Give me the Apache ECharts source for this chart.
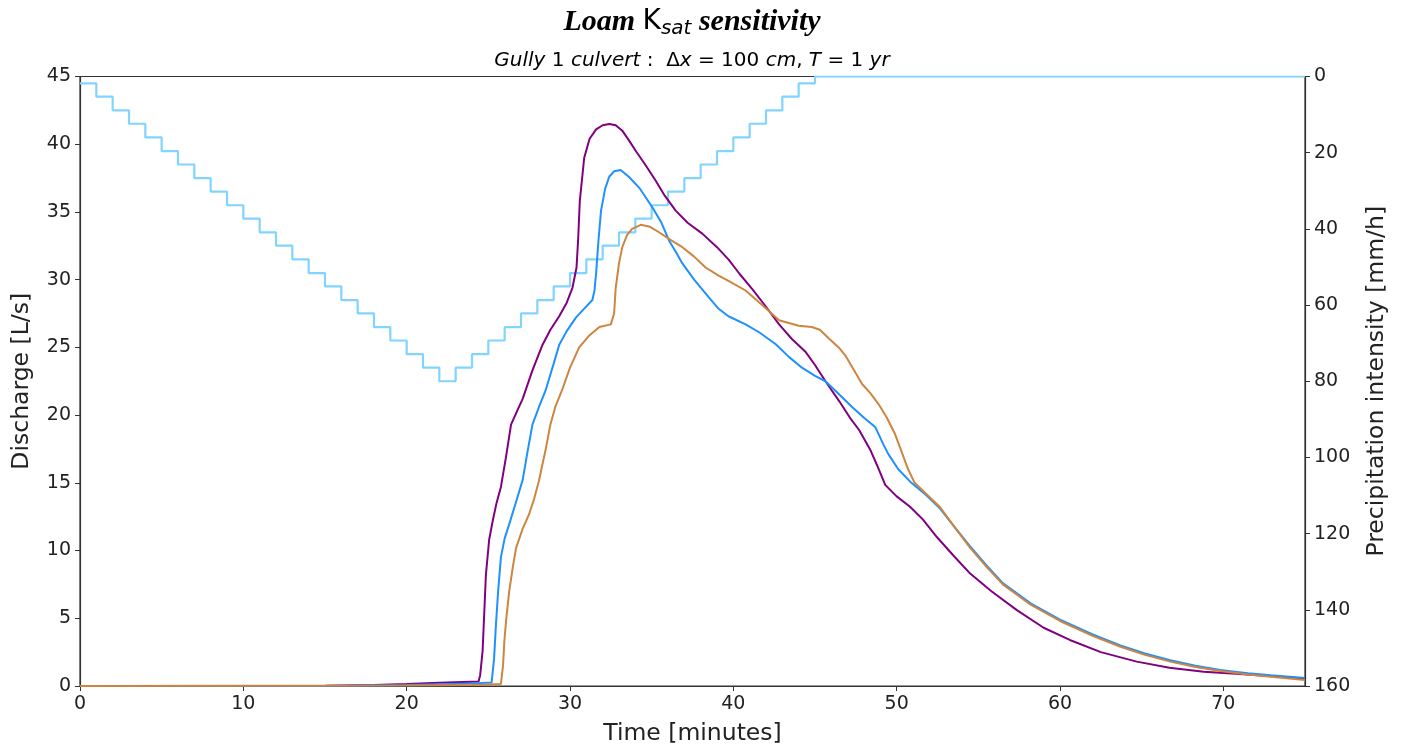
<!DOCTYPE html>
<html>
<head>
<meta charset="utf-8">
<script src="https://cdn.jsdelivr.net/npm/echarts@6/dist/echarts.min.js"></script>
<style>
html,body{margin:0;padding:0;background:#fff;}
#chart{width:1407px;height:751px;}
</style>
</head>
<body>
<div id="chart"></div>
<script>
// Time axis ticks
const xTicks = [0, 10, 20, 30, 40, 50, 60, 70];

// Precipitation hyetograph (mm/h), 1-minute blocks starting at t = 0
const rainTimes = [0,1,2,3,4,5,6,7,8,9,10,11,12,13,14,15,16,17,18,19,20,21,22,23,24,25,26,27,28,29,30,31,32,33,34,35,36,37,38,39,40,41,42,43,44,45,75];
const rainValues = [1.8,5.3,8.9,12.4,16.0,19.6,23.1,26.7,30.2,33.8,37.3,40.9,44.4,48.0,51.6,55.1,58.7,62.2,65.8,69.3,72.9,76.4,80.0,
                    76.4,72.9,69.3,65.8,62.2,58.7,55.1,51.6,48.0,44.4,40.9,37.3,33.8,30.2,26.7,23.1,19.6,16.0,12.4,8.9,5.3,1.8,0,0];

// Discharge series (L/s)
const purpleT = [0,10,15,18,20,22,24.4,24.5,24.65,24.85,25.05,25.27,25.5,25.77,26.08,26.39,26.8,27.1,27.7,28.32,28.8,29.34,29.8,30.15,30.4,30.5,30.6,30.87,31.2,31.6,32.0,32.4,32.8,33.2,33.6,34.03,34.6,35.25,35.8,36.47,37.2,38.1,39.0,39.7,40.4,41.16,42.0,42.8,43.6,44.4,45.0,45.64,46.5,47.2,47.7,48.4,48.8,49.3,50.0,50.8,51.6,52.46,53.5,54.5,55.8,57.36,59.0,60.6,62.5,64.7,66.7,68.8,71,73,75];
const purpleQ = [0,0,0.02,0.08,0.15,0.24,0.33,0.8,2.6,8.2,10.8,12.2,13.5,14.7,16.9,19.3,20.4,21.2,23.3,25.2,26.3,27.3,28.3,29.4,30.9,33.0,35.8,39.0,40.4,41.1,41.4,41.5,41.4,41.0,40.3,39.5,38.5,37.3,36.2,35.1,34.2,33.4,32.4,31.5,30.4,29.3,28.0,26.7,25.6,24.7,23.7,22.5,21.0,19.7,18.9,17.4,16.3,14.85,14.0,13.25,12.3,11.0,9.6,8.3,7.0,5.6,4.3,3.4,2.5,1.8,1.35,1.06,0.88,0.72,0.55];

const blueT = [0,15,20,24,25.2,25.35,25.47,25.6,25.77,26.0,26.28,26.7,27.1,27.4,27.7,28.1,28.5,29.0,29.34,29.8,30.36,30.9,31.37,31.5,31.6,31.75,31.9,32.15,32.4,32.7,33.1,33.6,34.23,35.04,35.6,36.06,36.5,36.88,37.6,38.5,39.1,39.7,40.75,41.6,42.58,43.4,44.2,45.0,45.64,46.5,47.27,48.0,48.7,49.2,49.5,50.1,50.9,51.8,52.66,53.5,54.5,55.5,56.5,58.2,60.0,62.0,63.7,65.2,66.75,68.3,69.8,71.5,72.9,75];
const blueQ = [0,0,0.08,0.18,0.25,2.0,4.6,7.0,9.5,10.9,11.95,13.6,15.2,17.3,19.3,20.6,21.8,23.8,25.2,26.2,27.2,27.9,28.5,29.2,30.5,33.0,35.1,36.7,37.6,38.0,38.1,37.6,36.8,35.35,34.2,32.9,32.0,31.2,30.0,28.7,27.85,27.3,26.7,26.1,25.25,24.3,23.5,22.9,22.5,21.5,20.6,19.8,19.1,17.8,17.1,16.0,15.0,14.1,13.1,11.8,10.3,8.9,7.6,6.1,4.9,3.8,3.0,2.4,1.9,1.5,1.18,0.95,0.8,0.6];

const orangeT = [0,20,24,25.77,25.9,25.98,26.1,26.28,26.5,26.7,27.1,27.5,27.8,28.1,28.3,28.5,28.8,29.1,29.5,30.0,30.56,31.2,31.8,32.5,32.7,32.8,33.0,33.2,33.5,33.8,34.33,34.9,35.45,36.2,36.88,37.6,38.3,39.1,39.73,40.75,41.8,42.8,43.4,44.0,44.8,45.3,45.9,46.45,46.86,47.4,47.88,48.4,48.9,49.4,49.9,50.3,50.7,51.1,51.8,52.66,53.5,54.5,55.5,56.5,58.2,60.0,62.0,63.7,65.2,66.75,68.3,69.8,71.5,72.9,75];
const orangeQ = [0,0.03,0.08,0.15,1.5,3.3,5.0,7.0,8.8,10.2,11.6,12.7,13.8,15.15,16.3,17.4,19.3,20.6,21.8,23.5,25.0,25.9,26.5,26.7,27.5,29.4,31.2,32.4,33.3,33.75,34.05,33.9,33.5,32.9,32.4,31.7,30.9,30.3,29.9,29.2,28.1,27.0,26.8,26.6,26.5,26.3,25.6,25.0,24.4,23.3,22.3,21.6,20.8,19.8,18.6,17.3,16.0,15.0,14.2,13.2,11.8,10.2,8.8,7.5,6.0,4.8,3.7,2.9,2.3,1.8,1.4,1.1,0.85,0.68,0.45];

function pairs(t, v) { return t.map((x, i) => [x, v[i]]); }

const FONT = 'DejaVu Sans';
const chart = echarts.init(document.getElementById('chart'), null, {renderer: 'canvas'});
chart.setOption({
  animation: false,
  backgroundColor: '#ffffff',
  grid: {left: 80, right: 102, top: 76.5, bottom: 65, show: true, borderColor: '#333', borderWidth: 1.2, backgroundColor: 'transparent', containLabel: false},
  graphic: [
    {type: 'text', x: 692, y: 22, z: 10,
     style: {text: '{b|Loam }{k|K}{s|sat}{b| sensitivity}', align: 'center', verticalAlign: 'middle',
       rich: {
         b: {fontFamily: 'Liberation Serif', fontWeight: 'bold', fontStyle: 'italic', fontSize: 30, color: '#000'},
         k: {fontFamily: FONT, fontSize: 28, color: '#000'},
         s: {fontFamily: FONT, fontStyle: 'italic', fontSize: 20, color: '#000', padding: [13, 0, 0, 0]}
       }}},
    {type: 'text', x: 692, y: 61, z: 10,
     style: {text: '{i|Gully }{n|1 }{i|culvert}{n| :  Δ}{i|x}{n| = 100 }{i|cm}{n|, }{i|T}{n| = 1 }{i|yr}', align: 'center', verticalAlign: 'middle',
       rich: {
         i: {fontFamily: FONT, fontStyle: 'italic', fontSize: 20, color: '#111'},
         n: {fontFamily: FONT, fontSize: 20, color: '#111'}
       }}}
  ],
  xAxis: {
    type: 'value', min: 0, max: 75, interval: 10,
    name: 'Time [minutes]', nameLocation: 'middle', nameGap: 36,
    nameTextStyle: {fontFamily: FONT, fontSize: 23.5, color: '#222'},
    axisLine: {show: true, lineStyle: {color: '#333', width: 1.2}},
    axisTick: {show: true, length: 5, lineStyle: {color: '#333'}},
    axisLabel: {fontFamily: FONT, fontSize: 19, color: '#222', margin: 9, showMaxLabel: false},
    splitLine: {show: false}
  },
  yAxis: [
    {type: 'value', min: 0, max: 45, interval: 5, position: 'left',
     name: 'Discharge [L/s]', nameLocation: 'middle', nameGap: 46,
     nameTextStyle: {fontFamily: FONT, fontSize: 23.5, color: '#222'},
     axisLine: {show: true, lineStyle: {color: '#333', width: 1.2}},
     axisTick: {show: true, length: 5, lineStyle: {color: '#333'}},
     axisLabel: {fontFamily: FONT, fontSize: 19, color: '#222', margin: 9},
     splitLine: {show: false}},
    {type: 'value', min: 0, max: 160, interval: 20, position: 'right', inverse: true,
     name: 'Precipitation intensity [mm/h]', nameLocation: 'middle', nameGap: 60,
     nameTextStyle: {fontFamily: FONT, fontSize: 23.5, color: '#222'},
     axisLine: {show: true, lineStyle: {color: '#333', width: 1.2}},
     axisTick: {show: true, length: 5, lineStyle: {color: '#333'}},
     axisLabel: {fontFamily: FONT, fontSize: 19, color: '#222', margin: 9},
     splitLine: {show: false}}
  ],
  series: [
    {type: 'line', name: 'Rain', yAxisIndex: 1, step: 'end', data: pairs(rainTimes, rainValues),
     symbol: 'none', lineStyle: {color: '#80D4FF', width: 2.2}, z: 1},
    {type: 'line', name: 'purple', data: pairs(purpleT, purpleQ), symbol: 'none',
     lineStyle: {color: '#800080', width: 2}, z: 3},
    {type: 'line', name: 'blue', data: pairs(blueT, blueQ), symbol: 'none',
     lineStyle: {color: '#1E90FF', width: 2}, z: 3},
    {type: 'line', name: 'orange', data: pairs(orangeT, orangeQ), symbol: 'none',
     lineStyle: {color: '#CD853F', width: 2}, z: 3}
  ]
});
</script>
</body>
</html>
